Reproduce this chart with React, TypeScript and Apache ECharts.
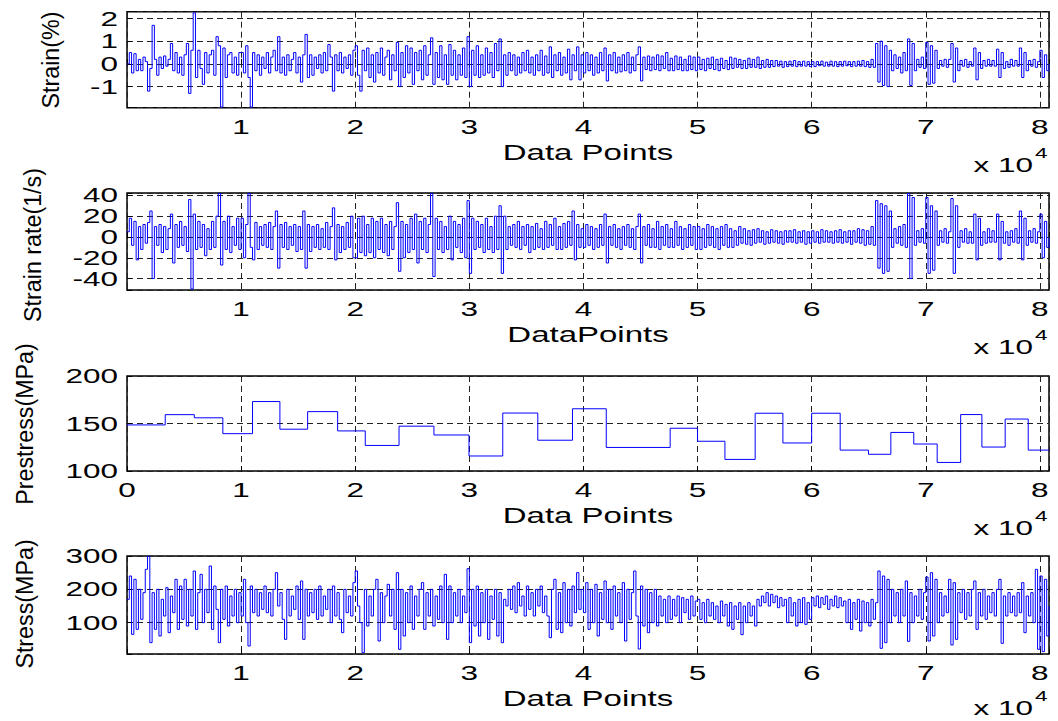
import React, { useEffect, useRef } from "react";
import * as echarts from "echarts";

// Sample spacing of the recorded signals (data points per stored sample)
const STEP = 200;
const X_MAX = 80800;

// Strain (%) per sample
const strain = [
  0.0, 0.5, -0.4, 0.45, -0.3, 0.2, -0.3, 0.3, 0.1, -1.2,
  -0.2, 1.7, 0.2, -0.5, 0.3, -0.2, 0.35, -0.1, 0.2, 0.9,
  -0.3, 0.5, -0.4, 0.3, -0.5, 0.4, 0.9, -1.3, 0.6, 2.25,
  -0.6, 0.6, -0.2, -0.9, 0.5, -0.4, 0.4, 0.6, -0.5, 1.2,
  0.8, -1.9, 0.7, -0.6, 0.4, 0.5, -0.4, 0.3, -0.5, 0.5,

  0.5, -0.4, 0.8, -0.6, -1.9, 0.5, -0.3, 0.4, -0.5, 0.3,
  -0.2, 0.5, -0.4, 0.3, 0.6, -0.3, 1.2, -0.4, 0.3, -0.5,
  0.4, -0.3, 0.2, 0.5, -0.4, 0.3, -0.8, 0.4, 1.3, -0.6,
  0.4, -0.5, 0.3, -0.2, 0.4, -0.4, 0.5, -0.3, 0.85, 0.3,
  -1.2, 0.4, -0.3, 0.5, -0.4, 0.3, -0.2, 0.4, -0.5, 0.6,

  0.8, -0.5, -1.2, 0.6, -0.3, 0.7, -0.6, 0.4, -0.8, 0.5,
  -0.4, 0.7, -0.5, 0.3, 0.6, -0.7, 0.4, -0.3, 0.95, -1.0,
  0.5, -0.6, 0.8, -0.4, 0.7, -0.9, 0.5, -0.3, 0.6, -0.7,
  0.8, -0.5, 0.4, 1.15, -0.9, 0.5, -0.6, 0.8, -0.7, 0.4,
  -0.9, 0.85, -0.5, 0.6, -0.7, 0.4, -0.5, 0.7, -0.6, 1.2,

  -1.0, 0.6, -0.5, 0.8, -0.6, 0.4, -0.5, 0.7, -0.4, 0.5,
  -0.6, 0.9, -0.3, 1.1, -1.0, 0.4, -0.5, 0.5, -0.3, 0.4,
  -0.5, 0.3, -0.4, 0.5, -0.3, 0.6, -0.4, 0.3, -0.5, 0.4,
  -0.3, 0.6, -0.5, 0.35, -0.4, 0.75, -0.6, 0.4, -0.3, 0.5,
  -0.5, 0.3, -0.4, 0.65, -0.7, 0.4, -0.3, 0.75, -0.7, 0.4,

  -0.4, 0.5, -0.3, 0.4, -0.5, 0.3, -0.4, 0.5, -0.3, 0.7,
  -0.75, 0.4, -0.3, 0.5, -0.4, 0.3, -0.35, 0.4, -0.3, 0.5,
  -0.4, 0.3, -0.3, 0.4, 0.75, -0.75, 0.3, -0.25, 0.35, -0.3,
  0.3, -0.25, 0.4, -0.3, 0.35, -0.2, 0.5, -0.3, 0.25, -0.3,
  0.35, -0.25, 0.3, -0.3, 0.2, -0.3, 0.35, -0.25, 0.3, -0.3,

  0.3, -0.25, 0.2, -0.3, 0.25, -0.2, 0.3, -0.25, 0.2, -0.3,
  0.25, -0.2, 0.15, -0.25, 0.3, -0.2, 0.25, -0.15, 0.2, -0.2,
  0.15, -0.2, 0.25, -0.15, 0.2, -0.15, 0.3, -0.2, 0.15, -0.15,
  0.2, -0.15, 0.15, -0.12, 0.15, -0.1, 0.12, -0.15, 0.1, -0.12,
  0.12, -0.1, 0.15, -0.12, 0.1, -0.1, 0.12, -0.1, 0.1, -0.12,

  0.1, -0.12, 0.1, -0.08, 0.12, -0.1, 0.08, -0.1, 0.12, -0.1,
  0.1, -0.12, 0.1, -0.1, 0.12, -0.08, 0.1, -0.12, 0.1, -0.1,
  0.12, -0.1, 0.15, -0.12, 0.1, -0.15, 0.2, -0.15, 0.9, -0.8,
  1.0, -0.95, 0.8, -1.0, 0.6, -0.3, 0.4, -0.2, 0.3, -0.4,
  0.5, -0.3, 1.1, -0.95, 0.9, -0.3, 0.2, -0.15, 0.3, -0.2,

  0.95, -0.9, 0.8, -0.85, 0.6, -0.2, 0.15, -0.1, 0.2, -0.15,
  0.2, 0.9, -0.8, 0.7, -0.3, 0.15, -0.1, 0.2, -0.15, 0.1,
  -0.1, 0.7, -0.7, 0.5, -0.2, 0.15, -0.1, 0.2, -0.1, 0.15,
  -0.1, 0.65, -0.6, 0.5, -0.2, 0.1, -0.15, 0.2, -0.1, 0.15,
  -0.1, 0.7, -0.6, 0.5, -0.3, 0.15, -0.1, 0.2, -0.15, 0.1,

  0.6, -0.6, 0.4, -0.3, 0.0,
];

// Strain rate (1/s) per sample
const strainRate = [
  5, 18, -8, 15, -22, 10, -12, 12, -6, 14,
  25, -40, 10, -8, 12, -15, 10, -12, 8, 22,
  -25, 12, -10, 15, -8, 10, -14, 36, -50, 22,
  -12, 15, -10, 12, -18, 8, -12, 15, -10, 20,
  42, -27, 15, -12, 20, -15, 10, -8, 18, -12,

  18, -20, 12, 42, -10, -22, 14, -12, 10, -8,
  12, -10, 14, -12, 10, 25, -30, 12, -10, 14,
  -12, 10, -8, 12, -14, 10, -12, 25, -30, 12,
  -14, 10, -10, 12, -12, 8, -10, 14, -12, 10,
  28, -22, 12, -15, 10, -12, 14, -10, 20, -20,

  -20, 18, -15, 20, -18, 12, -15, 18, -20, 15,
  -12, 18, -15, 12, -18, 15, -12, 10, 33, -33,
  15, -20, 12, -15, 18, -12, 22, -25, 15, -12,
  18, -15, 12, 42, -38, 18, -12, 15, -15, 10,
  -12, 20, -22, 15, -10, 12, -15, 18, -20, 35,

  -35, 18, -12, 15, -10, 12, -15, 18, -12, 10,
  -15, 20, -12, 30, -35, 20, -12, 10, -8, 12,
  -10, 15, -12, 10, -8, 12, -15, 10, -12, 13,
  -10, 8, -12, 15, -10, 12, -8, 18, -12, 10,
  -12, 13, -10, 15, -8, 25, -22, 12, -10, 8,

  -10, 12, -8, 10, -12, 8, -10, 12, -8, 22,
  -25, 10, -8, 12, -10, 8, -12, 10, -8, 12,
  -10, 8, -12, 10, 22, -25, 10, -8, 12, -10,
  8, -10, 15, -12, 10, -8, 12, -10, 8, -10,
  15, -8, 10, -12, 8, -10, 12, -8, 10, -12,

  10, -12, 8, -10, 12, -8, 10, -10, 8, -12,
  10, -8, 12, -10, 8, -10, 6, -8, 10, -6,
  8, -7, 6, -8, 7, -6, 8, -5, 6, -7,
  5, -6, 7, -5, 6, -6, 5, -7, 6, -5,
  6, -5, 7, -6, 5, -5, 6, -7, 5, -6,

  6, -5, 5, -6, 7, -5, 6, -5, 5, -6,
  6, -5, 7, -6, 5, -5, 6, -7, 6, -5,
  8, -6, 7, -8, 6, -7, 10, -8, 35, -30,
  32, -35, 30, -33, 25, -10, 8, -6, 10, -8,
  12, -10, 42, -40, 38, -8, 6, -5, 8, -6,

  38, -35, 30, -32, 25, -8, 6, -5, 8, -6,
  5, 37, -35, 30, -10, 6, -5, 8, -6, 5,
  -6, 22, -22, 18, -8, 5, -6, 8, -5, 6,
  -5, 22, -22, 15, -6, 5, -8, 6, -5, 8,
  -6, 25, -22, 18, -8, 6, -5, 8, -6, 5,

  22, -20, 15, -10, 0,
];

// Prestress (MPa): start index of each load stage and its level
const prestressStart = [
  0, 3350, 5900, 8400, 11000, 13400, 15830, 18460, 20880, 23840, 26900, 29970, 32930, 36000, 39040, 42000,
  47600, 50000, 52400, 55050, 57480, 60000, 62500, 64980, 66940, 68950, 71000, 73060, 74920, 76960, 78980,
];
const prestressLevel = [
  148.5, 159.3, 156, 139.3, 173.1, 144, 162.5, 142.2, 126.9, 147.2, 137.9, 115.8, 161, 132.4, 165.5, 124.8,
  145, 131.3, 112.2, 160.8, 129.5, 160.8, 122, 117.6, 140.6, 128.4, 109, 159.4, 125.2, 154.7, 122,
];

// Stress (MPa) per sample
const stress = [
  170, 240, 65, 230, 80, 200, 110, 190, 260, 300,
  40, 190, 80, 200, 60, 170, 120, 205, 70, 180,
  130, 230, 80, 210, 110, 230, 90, 200, 120, 255,
  80, 190, 245, 100, 200, 130, 270, 80, 210, 140,
  40, 200, 110, 210, 90, 180, 120, 200, 100, 190,

  120, 230, 100, 30, 210, 130, 200, 120, 190, 140,
  210, 130, 190, 120, 200, 250, 150, 190, 110, 50,
  200, 120, 180, 140, 210, 110, 225, 50, 200, 120,
  190, 130, 200, 110, 210, 120, 180, 140, 200, 100,
  210, 120, 190, 110, 70, 200, 130, 180, 120, 220,

  255, 150, 100, 10, 200, 90, 180, 120, 200, 230,
  45, 190, 100, 180, 215, 120, 200, 80, 250, 20,
  200, 60, 190, 100, 210, 80, 180, 120, 200, 220,
  80, 190, 120, 200, 90, 180, 110, 210, 100, 245,
  50, 210, 100, 190, 120, 200, 100, 180, 130, 262,

  40, 200, 90, 210, 60, 190, 100, 200, 50, 180,
  110, 200, 60, 190, 40, 170, 150, 200, 140, 210,
  130, 220, 150, 180, 120, 210, 140, 190, 120, 200,
  150, 210, 130, 180, 120, 55, 200, 230, 80, 190,
  70, 220, 100, 200, 90, 210, 130, 250, 140, 200,

  130, 220, 80, 200, 100, 215, 60, 190, 110, 225,
  100, 200, 80, 210, 120, 190, 100, 220, 45, 200,
  110, 190, 255, 120, 21, 210, 90, 200, 70, 190,
  100, 200, 90, 180, 120, 170, 100, 180, 110, 170,
  120, 180, 100, 175, 130, 170, 110, 180, 120, 165,

  170, 110, 160, 100, 170, 120, 160, 110, 150, 100,
  165, 120, 155, 90, 160, 80, 150, 110, 160, 64,
  150, 100, 160, 120, 150, 90, 170, 150, 180, 160,
  190, 150, 185, 160, 180, 145, 175, 150, 170, 100,
  175, 120, 160, 90, 170, 100, 175, 95, 160, 110,

  175, 150, 180, 145, 175, 155, 180, 140, 170, 150,
  180, 145, 175, 150, 165, 100, 170, 80, 160, 110,
  170, 75, 165, 100, 160, 90, 170, 110, 160, 255,
  23, 240, 40, 230, 100, 200, 120, 190, 100, 200,
  120, 225, 44, 190, 100, 180, 120, 200, 110, 190,

  237, 45, 250, 60, 230, 100, 190, 120, 180, 130,
  230, 33, 220, 50, 190, 130, 200, 110, 190, 120,
  200, 225, 80, 190, 120, 200, 110, 180, 130, 190,
  120, 200, 230, 38, 180, 120, 190, 130, 180, 120,
  190, 130, 220, 70, 180, 120, 190, 100, 260, 20,

  240, 13, 230, 60, 150,
];

// Tick values and their labels
const xTicks = [0, 10000, 20000, 30000, 40000, 50000, 60000, 70000, 80000];
const xTickLabels = ["0", "1", "2", "3", "4", "5", "6", "7", "8"];
const strainTicks = [-1, 0, 1, 2];
const strainRateTicks = [-40, -20, 0, 20, 40];
const prestressTicks = [100, 150, 200];
const stressTicks = [100, 200, 300];

const FONT = 'Arial, "Liberation Sans", Helvetica, sans-serif';
const BLUE = "#0000ff";
const WIDE = 1.5; // horizontal stretch of the axis lettering

const panels = [
  { top: 11.7, height: 96, yMin: -1.93, yMax: 2.3, split: 4, yTicks: strainTicks, showZero: false, xName: "Data Points", yName: "Strain(%)", yNameX: 51, yNameY: 60, expGap: 57 },
  { top: 193, height: 97, yMin: -51, yMax: 42.3, split: 5, yTicks: strainRateTicks, showZero: false, xName: "DataPoints", yName: "Strain rate(1/s)", yNameX: 33, yNameY: 245, expGap: 57 },
  { top: 376, height: 95, yMin: 100, yMax: 200, split: 2, yTicks: prestressTicks, showZero: true, xName: "Data Points", yName: "Prestress(MPa)", yNameX: 25, yNameY: 424, expGap: 57 },
  { top: 556, height: 98, yMin: 6, yMax: 300, split: 3, yTicks: stressTicks, showZero: false, xName: "Data Points", yName: "Stress(MPa)", yNameX: 25, yNameY: 604, expGap: 54 },
];

const LEFT = 127;
const RIGHT_EDGE = 1049;

function samples(vals: number[]) {
  return vals.map((v, i) => [i * STEP, v]);
}

function stages(starts: number[], levels: number[]) {
  const pts = starts.map((s, i) => [s, levels[i]]);
  pts.push([X_MAX, levels[levels.length - 1]]);
  return pts;
}

export default function App() {
  const ref = useRef<HTMLDivElement>(null);

  useEffect(() => {
    if (!ref.current) return;
    const chart = echarts.init(ref.current, undefined, { renderer: "svg" });

    const grids = panels.map((p) => ({
      left: LEFT,
      top: p.top,
      width: RIGHT_EDGE - LEFT,
      height: p.height,
      show: true,
      borderColor: "#000",
      borderWidth: 1.5,
      backgroundColor: "#fff",
    }));

    const splitLine = { show: true, lineStyle: { color: "#222", type: [6, 4] as any, width: 1 } };
    const axisTick = { show: true, inside: true, length: 5, lineStyle: { color: "#000" } };

    const xAxes = panels.map((p, i) => ({
      type: "value",
      gridIndex: i,
      min: 0,
      max: X_MAX,
      splitNumber: 8,
      axisLine: { show: false },
      axisTick,
      splitLine,
      axisLabel: { show: false },
    }));

    const yAxes = panels.map((p, i) => ({
      type: "value",
      gridIndex: i,
      min: p.yMin,
      max: p.yMax,
      splitNumber: p.split,
      axisLine: { show: false },
      axisTick,
      splitLine,
      axisLabel: { show: false },
    }));

    const lineSeries = (idx: number, data: number[][]) => ({
      type: "line",
      xAxisIndex: idx,
      yAxisIndex: idx,
      data,
      step: "end",
      showSymbol: false,
      symbol: "none",
      silent: true,
      lineStyle: { color: BLUE, width: 1 },
      clip: true,
    });

    chart.setOption({
      animation: false,
      backgroundColor: "#fff",
      grid: grids,
      xAxis: xAxes,
      yAxis: yAxes,
      series: [
        lineSeries(0, samples(strain)),
        lineSeries(1, samples(strainRate)),
        lineSeries(2, stages(prestressStart, prestressLevel)),
        lineSeries(3, samples(stress)),
      ],
    } as any);

    // Axis lettering is placed from the axes' own scales
    const graphics: any[] = [];
    const txt = (x: number, y: number, text: string, size: number, align: string) => ({
      type: "text",
      x,
      y,
      scaleX: WIDE,
      silent: true,
      style: { text, font: `${size}px ${FONT}`, fill: "#000", align, verticalAlign: "middle" },
    });

    panels.forEach((p, i) => {
      const bottom = p.top + p.height;
      xTicks.forEach((v, k) => {
        if (v === 0 && !p.showZero) return;
        const [px] = chart.convertToPixel({ gridIndex: i }, [v, p.yMin]) as number[];
        graphics.push(txt(px, bottom + 19, xTickLabels[k], 21, "center"));
      });
      p.yTicks.forEach((v) => {
        const [, py] = chart.convertToPixel({ gridIndex: i }, [0, v]) as number[];
        graphics.push(txt(LEFT - 9, py, String(v), 21, "right"));
      });
      const centerX = (LEFT + RIGHT_EDGE) / 2;
      graphics.push(txt(centerX, bottom + 45, p.xName, 22, "center"));
      graphics.push(txt(1033, bottom + p.expGap, "x 10", 21, "right"));
      graphics.push(txt(1035, bottom + p.expGap - 12, "4", 15, "left"));
      graphics.push({
        type: "text",
        x: p.yNameX,
        y: p.yNameY,
        rotation: Math.PI / 2,
        scaleX: 0.97,
        silent: true,
        style: { text: p.yName, font: `24px ${FONT}`, fill: "#000", align: "center", verticalAlign: "middle" },
      });
    });

    chart.setOption({ graphic: graphics } as any);

    return () => chart.dispose();
  }, []);

  return (
    <div
      ref={ref}
      style={{ position: "fixed", left: 0, top: 0, width: 1058, height: 721, background: "#fff" }}
    />
  );
}
